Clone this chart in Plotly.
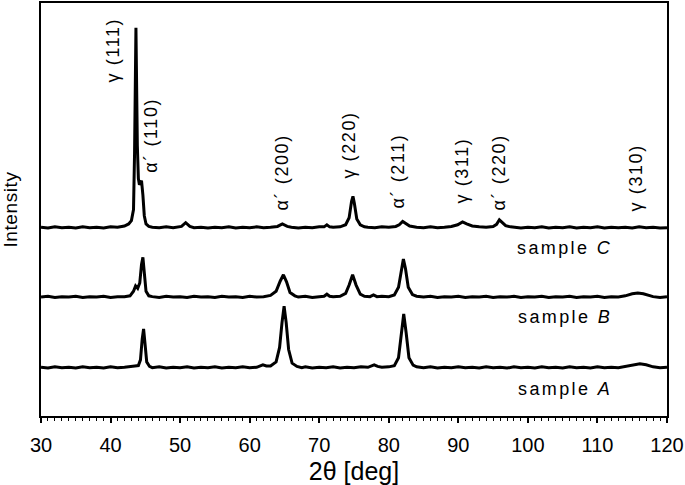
import plotly.graph_objects as go

# 2theta / intensity pairs (intensity above each pattern's own baseline)
SAMPLE_A = [
    (30.0, 0.2), (31.0, 0.0), (32.0, 0.3), (33.0, 0.1), (34.0, 0.2), (35.0, 0.0),
    (36.0, 0.3), (37.0, 0.1), (38.0, 0.2), (39.0, 0.0), (40.0, 0.3), (41.0, 0.1),
    (42.0, 0.2), (43.0, 0.3), (43.5, 0.5), (44.0, 0.6), (44.3, 2.0), (44.55, 7.0),
    (44.75, 9.5), (44.95, 6.0), (45.2, 1.5), (45.6, 0.4), (46.0, 0.1), (47.0, 0.3),
    (48.0, 0.0), (49.0, 0.2), (50.0, 0.1), (51.0, 0.3), (52.0, 0.0), (53.0, 0.2),
    (54.0, 0.1), (55.0, 0.3), (56.0, 0.0), (57.0, 0.2), (58.0, 0.1), (59.0, 0.3),
    (60.0, 0.1), (61.0, 0.2), (61.5, 0.5), (61.9, 0.8), (62.4, 0.5), (63.0, 0.5),
    (63.8, 1.5), (64.3, 5.0), (64.65, 11.0), (64.95, 15.0), (65.25, 11.0), (65.6, 4.5),
    (66.1, 1.2), (66.8, 0.4), (67.5, 0.1), (68.0, 0.3), (69.0, 0.0), (70.0, 0.2),
    (71.0, 0.1), (72.0, 0.3), (73.0, 0.0), (74.0, 0.2), (75.0, 0.1), (76.0, 0.3),
    (77.0, 0.2), (77.5, 0.5), (77.9, 0.8), (78.4, 0.4), (79.0, 0.2), (80.0, 0.3),
    (80.8, 0.6), (81.4, 2.5), (81.8, 8.5), (82.15, 13.1), (82.5, 8.5), (82.9, 2.5),
    (83.5, 0.7), (84.0, 0.3), (85.0, 0.1), (86.0, 0.3), (87.0, 0.0), (88.0, 0.2),
    (89.0, 0.1), (90.0, 0.3), (91.0, 0.1), (92.0, 0.2), (93.0, 0.0), (94.0, 0.3),
    (95.0, 0.1), (96.0, 0.2), (97.0, 0.0), (98.0, 0.3), (99.0, 0.1), (100.0, 0.2),
    (101.0, 0.0), (102.0, 0.3), (103.0, 0.1), (104.0, 0.2), (105.0, 0.0), (106.0, 0.3),
    (107.0, 0.1), (108.0, 0.2), (109.0, 0.0), (110.0, 0.3), (111.0, 0.1), (112.0, 0.2),
    (113.0, 0.1), (114.0, 0.4), (115.0, 0.8), (116.1, 1.05), (117.0, 0.8), (118.0, 0.3),
    (119.0, 0.1), (120.0, 0.2),
]

SAMPLE_B = [
    (30.0, 0.1), (31.0, 0.3), (32.0, 0.0), (33.0, 0.2), (34.0, 0.1), (35.0, 0.3),
    (36.0, 0.0), (37.0, 0.2), (38.0, 0.1), (39.0, 0.3), (40.0, 0.0), (41.0, 0.2),
    (42.0, 0.2), (42.8, 0.4), (43.3, 1.5), (43.6, 2.8), (43.9, 2.2), (44.2, 3.5),
    (44.45, 8.0), (44.65, 9.7), (44.85, 6.0), (45.1, 1.5), (45.5, 0.4), (46.0, 0.2),
    (47.0, 0.0), (48.0, 0.3), (49.0, 0.1), (50.0, 0.2), (51.0, 0.0), (52.0, 0.3),
    (53.0, 0.1), (54.0, 0.2), (55.0, 0.0), (56.0, 0.3), (57.0, 0.1), (58.0, 0.2),
    (59.0, 0.0), (60.0, 0.3), (61.0, 0.1), (62.0, 0.2), (63.0, 0.5), (63.8, 1.5),
    (64.4, 4.0), (64.85, 5.5), (65.3, 3.8), (65.8, 1.2), (66.5, 0.4), (67.0, 0.1),
    (68.0, 0.3), (69.0, 0.0), (70.0, 0.2), (70.7, 0.3), (71.1, 0.8), (71.5, 0.3),
    (72.0, 0.2), (73.0, 0.3), (73.8, 1.0), (74.3, 3.0), (74.8, 5.5), (75.3, 3.0),
    (75.9, 0.8), (76.5, 0.3), (77.3, 0.2), (77.8, 0.6), (78.3, 0.2), (79.0, 0.3),
    (80.0, 0.2), (80.8, 0.6), (81.4, 2.5), (81.8, 7.0), (82.1, 9.3), (82.4, 7.0),
    (82.8, 2.5), (83.4, 0.7), (84.0, 0.3), (85.0, 0.1), (86.0, 0.3), (87.0, 0.0),
    (88.0, 0.2), (89.0, 0.1), (90.0, 0.3), (91.0, 0.0), (92.0, 0.2), (93.0, 0.1),
    (94.0, 0.3), (95.0, 0.0), (96.0, 0.2), (97.0, 0.1), (98.0, 0.3), (99.0, 0.0),
    (100.0, 0.2), (101.0, 0.1), (102.0, 0.3), (103.0, 0.0), (104.0, 0.2), (105.0, 0.1),
    (106.0, 0.3), (107.0, 0.0), (108.0, 0.2), (109.0, 0.1), (110.0, 0.3), (111.0, 0.0),
    (112.0, 0.2), (113.0, 0.1), (114.0, 0.4), (115.0, 0.9), (115.8, 1.1), (116.6, 0.9),
    (117.5, 0.4), (118.0, 0.2), (119.0, 0.0), (120.0, 0.2),
]

SAMPLE_C = [
    (30.0, 0.2), (31.0, 0.0), (32.0, 0.3), (33.0, 0.1), (34.0, 0.2), (35.0, 0.0),
    (36.0, 0.3), (37.0, 0.1), (38.0, 0.2), (39.0, 0.0), (40.0, 0.3), (41.0, 0.2),
    (42.0, 0.5), (42.6, 1.0), (43.0, 1.8), (43.3, 4.5), (43.45, 18.0), (43.65, 48.5),
    (43.85, 20.0), (44.0, 12.0), (44.15, 10.5), (44.3, 11.0), (44.45, 11.5), (44.65, 8.0),
    (44.85, 3.0), (45.1, 1.0), (45.5, 0.4), (46.0, 0.2), (47.0, 0.1), (48.0, 0.3),
    (49.0, 0.1), (50.2, 0.4), (50.8, 1.3), (51.4, 0.4), (52.0, 0.1), (53.0, 0.2),
    (54.0, 0.0), (55.0, 0.2), (56.0, 0.1), (57.0, 0.3), (58.0, 0.0), (59.0, 0.2),
    (60.0, 0.1), (61.0, 0.3), (62.0, 0.1), (63.0, 0.2), (64.0, 0.4), (64.7, 1.0),
    (65.4, 0.4), (66.0, 0.2), (67.0, 0.0), (68.0, 0.2), (69.0, 0.1), (70.0, 0.3),
    (70.7, 0.3), (71.1, 0.8), (71.5, 0.3), (72.0, 0.2), (73.0, 0.3), (73.8, 0.8),
    (74.3, 2.5), (74.65, 6.5), (74.85, 7.7), (75.05, 6.0), (75.4, 2.2), (75.9, 0.8),
    (76.5, 0.3), (77.0, 0.2), (78.0, 0.1), (79.0, 0.3), (80.0, 0.2), (81.0, 0.4),
    (81.5, 0.8), (82.0, 1.6), (82.5, 1.0), (83.0, 0.5), (84.0, 0.2), (85.0, 0.1),
    (86.0, 0.3), (87.0, 0.1), (88.0, 0.2), (89.0, 0.4), (89.9, 0.8), (90.6, 1.5),
    (91.2, 1.0), (92.0, 0.5), (93.0, 0.3), (94.0, 0.2), (95.0, 0.4), (95.5, 0.9),
    (95.9, 2.0), (96.3, 1.3), (96.8, 0.6), (97.5, 0.3), (98.0, 0.2), (99.0, 0.0),
    (100.0, 0.2), (101.0, 0.1), (102.0, 0.3), (103.0, 0.0), (104.0, 0.2), (105.0, 0.1),
    (106.0, 0.3), (107.0, 0.0), (108.0, 0.2), (109.0, 0.1), (110.0, 0.3), (111.0, 0.0),
    (112.0, 0.2), (113.0, 0.1), (114.0, 0.2), (115.0, 0.0), (116.0, 0.3), (117.0, 0.1),
    (118.0, 0.2), (119.0, 0.0), (120.0, 0.1),
]

# vertical offset of each pattern (stacked plot)
SAMPLES = ["A", "B", "C"]
OFFSETS = [11.6, 28.7, 45.5]
LABEL_Y = [6.5, 24.0, 40.8]

# reflection labels: text, 2theta, height
PEAK_LABELS = ["γ (111)", "α´ (110)", "α´ (200)", "γ (220)", "α´ (211)", "γ (311)", "α´ (220)", "γ (310)"]
PEAK_X = [40.4, 45.7, 64.6, 74.3, 81.3, 90.5, 95.8, 115.5]
PEAK_Y = [88.6, 67.9, 58.9, 65.5, 59.4, 59.4, 58.9, 57.7]

FONT = "Liberation Sans, Arial, sans-serif"


def spaced(txt, px):
    return '<span style="letter-spacing:%spx">%s</span>' % (px, txt)


fig = go.Figure()

for name, data, off in zip(SAMPLES, [SAMPLE_A, SAMPLE_B, SAMPLE_C], OFFSETS):
    xs = [p[0] for p in data]
    ys = [p[1] + off for p in data]
    fig.add_trace(go.Scatter(x=xs, y=ys, mode='lines', name='sample ' + name,
                             line=dict(color='black', width=3), showlegend=False))

for name, ly in zip(SAMPLES, LABEL_Y):
    fig.add_annotation(x=105.3, y=ly, text=spaced('sample <i>' + name + '</i>', 2.4), showarrow=False,
                       font=dict(family=FONT, size=18, color='black'))

for txt, px, py in zip(PEAK_LABELS, PEAK_X, PEAK_Y):
    fig.add_annotation(x=px, y=py, text=spaced(txt, 1.6), textangle=-90, showarrow=False,
                       xanchor='center', yanchor='middle',
                       font=dict(family=FONT, size=18, color='black'))

fig.update_xaxes(range=[30, 120], dtick=10, tick0=30, ticks='outside', ticklen=5, tickwidth=1.5,
                 tickcolor='black', showline=True, linewidth=2, linecolor='black', mirror=True,
                 showgrid=False, zeroline=False, automargin=False, ticklabelstandoff=5,
                 minor=dict(dtick=1, ticks='outside', ticklen=3, tickwidth=1, tickcolor='black'),
                 tickfont=dict(family=FONT, size=20, color='black'),
                 title=dict(text='2θ [deg]', font=dict(family=FONT, size=25, color='black'), standoff=16))

fig.update_yaxes(range=[0, 100], showticklabels=False, ticks='', showline=True, linewidth=2,
                 linecolor='black', mirror=True, showgrid=False, zeroline=False, automargin=False,
                 title=dict(text=spaced('Intensity', 0.6), font=dict(family=FONT, size=19, color='black'),
                            standoff=21))

fig.update_layout(width=685, height=485, template='plotly_white',
                  paper_bgcolor='white', plot_bgcolor='white',
                  margin=dict(l=41, r=18, t=3, b=69))

# drop the browser's default 8px body margin so the figure fills the window
fig.write_html("out.html", config={'displayModeBar': False},
               post_script="document.body.style.margin='0';")
